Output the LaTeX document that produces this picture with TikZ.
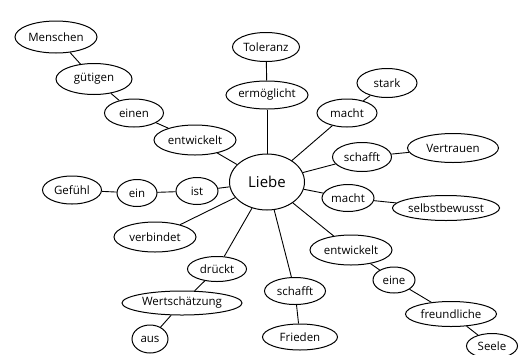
\documentclass[tikz,border=0pt]{standalone}
\usepackage{fontspec}
\setmainfont{Open Sans}
\usepackage{tikz}
\usetikzlibrary{shapes.geometric}

\tikzset{
  bub/.style 2 args={ellipse, draw, line width=1pt, inner sep=0pt,
    minimum width=#1, minimum height=#2, font=\fontsize{11.5}{13}\selectfont},
  link/.style={line width=0.9pt}
}

\begin{document}
\begin{tikzpicture}[x=1pt, y=-1pt]
\useasboundingbox (0,0) rectangle (527,354);
\node[bub={75pt}{56pt}, font=\fontsize{15}{17}\selectfont] (L) at (267,182){Liebe};
% oben links
\node[bub={82pt}{30pt}] (A1) at (195,140){entwickelt};
\node[bub={59pt}{28pt}] (A2) at (134,113){einen};
\node[bub={76pt}{31pt}] (A3) at (94,79){gütigen};
\node[bub={82pt}{32pt}] (A4) at (56,37){Menschen};
% oben
\node[bub={82pt}{28pt}] (B1) at (267,95){ermöglicht};
\node[bub={67pt}{29pt}] (B2) at (266,47){Toleranz};
\node[bub={60pt}{28pt}] (C1) at (347,113){macht};
\node[bub={60pt}{29pt}] (C2) at (387,83){stark};
\node[bub={59pt}{29pt}] (D1) at (362,157){schafft};
\node[bub={91pt}{29pt}] (D2) at (453,148){Vertrauen};
% rechts
\node[bub={52pt}{27pt}] (E1) at (348,198){macht};
\node[bub={105pt}{25pt}] (E2) at (446,208){selbstbewusst};
\node[bub={82pt}{30pt}] (F1) at (351,250){entwickelt};
\node[bub={42pt}{26pt}] (F2) at (394,280){eine};
\node[bub={91pt}{25pt}] (F3) at (451,314){freundliche};
\node[bub={51pt}{25pt}] (F4) at (492,346){Seele};
% unten
\node[bub={61pt}{27pt}] (G1) at (295,291){schafft};
\node[bub={75pt}{26pt}] (G2) at (300,337){Frieden};
\node[bub={59pt}{25pt}] (H1) at (217,269){drückt};
\node[bub={120pt}{24pt}] (H2) at (182,303){Wertschätzung};
\node[bub={36pt}{28pt}] (H3) at (150,339){aus};
% links
\node[bub={82pt}{30pt}] (K1) at (155,237){verbindet};
\node[bub={42pt}{27pt}] (I1) at (197,191){ist};
\node[bub={40pt}{27pt}] (I2) at (137,193){ein};
\node[bub={59pt}{28pt}] (I3) at (72,190){Gefühl};

\draw[link] (L) to (A1);
\draw[link] (A1) to (A2);
\draw[link] (A2) to (A3);
\draw[link] (A3) to (A4);
\draw[link] (L) to (B1);
\draw[link] (B1) to (B2);
\draw[link] (L) to (C1);
\draw[link] (C1) to (C2);
\draw[link] (L) to (D1);
\draw[link] (D1) to (D2);
\draw[link] (L) to (E1);
\draw[link] (E1) to (E2);
\draw[link] (L) to (F1);
\draw[link] (F1) to (F2);
\draw[link] (F2) to (F3);
\draw[link] (F3) to (F4);
\draw[link] (L) to (G1);
\draw[link] (G1) to (G2);
\draw[link] (L) to (H1);
\draw[link] (H1) to (H2);
\draw[link] (H2) to (H3);
\draw[link] (L) to (K1);
\draw[link] (L) to (I1);
\draw[link] (I1) to (I2);
\draw[link] (I2) to (I3);
\end{tikzpicture}
\end{document}
